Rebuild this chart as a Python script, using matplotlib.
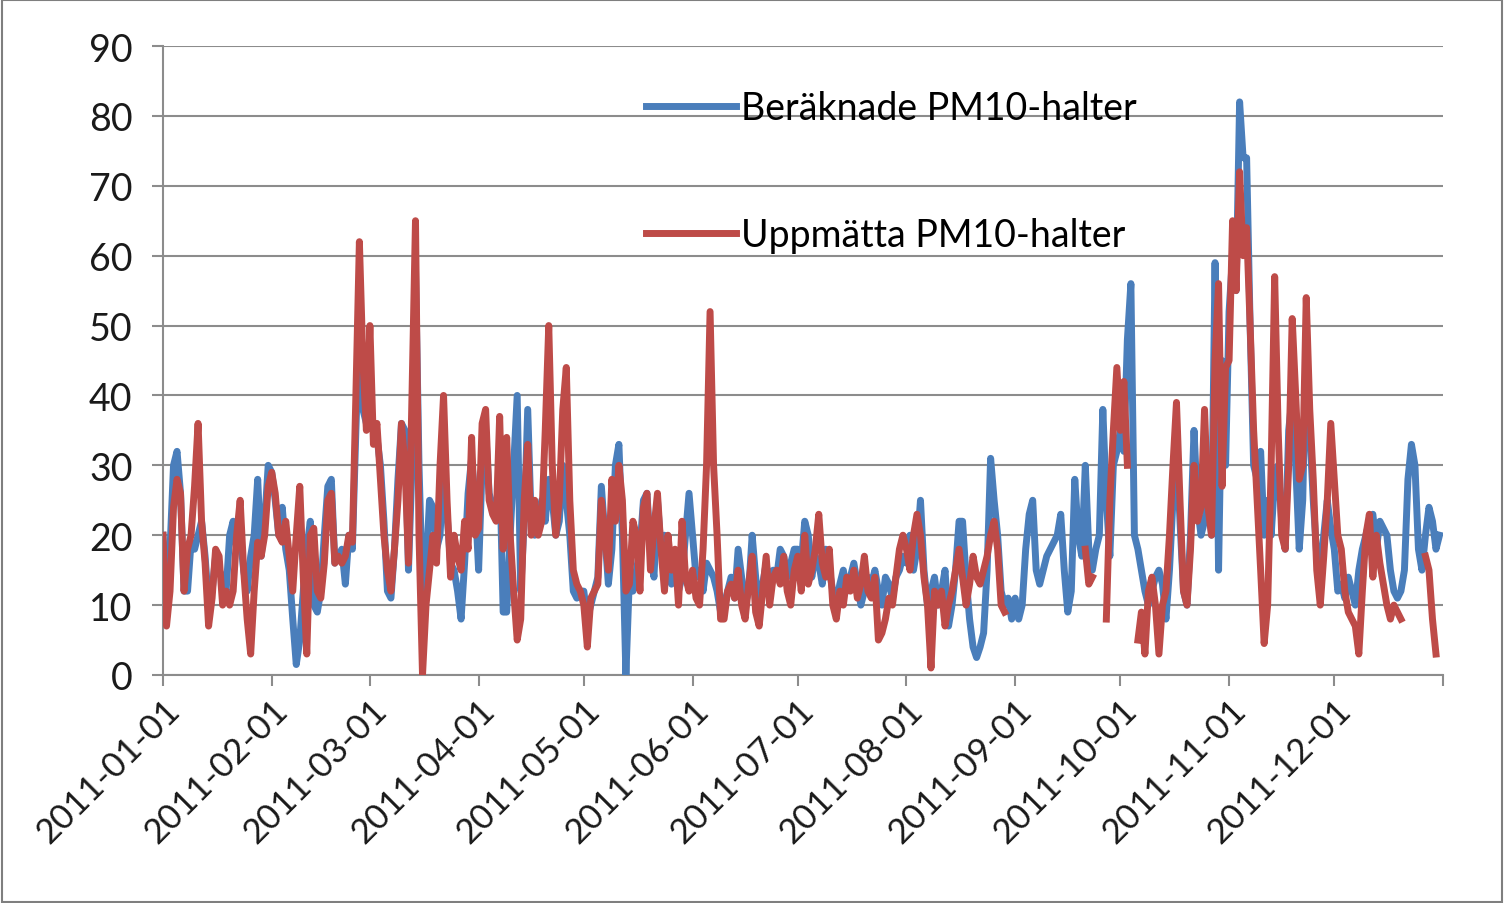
import numpy as np
import pandas as pd
import matplotlib
matplotlib.use("Agg")
import matplotlib.pyplot as plt
from matplotlib.patches import Rectangle

nan = np.nan

# daily PM10 values, 2011, read month by month
ber_jan = [20, 8, 18, 30, 32, 26, 12, 12, 19, 18, 20, 22, 17, 10, 12, 17, 15, 14, 12, 20,
           22, 18, 20, 15, 12, 17, 20, 28, 17, 22, 30]
ber_feb = [29, 25, 20, 24, 18, 15, 8, 1.5, 5, 12, 18, 22, 10, 9, 12, 20, 27, 28, 16, 17,
           18, 13, 20, 18, 35, 50, 38, 36]
ber_mar = [38, 35, 34, 30, 22, 12, 11, 18, 28, 36, 35, 15, 30, 58, 30, 12, 15, 25, 24, 18,
           20, 30, 23, 16, 15, 12, 8, 16, 26, 31, 25]
ber_apr = [15, 30, 35, 26, 24, 23, 30, 9, 9, 20, 30, 40, 12, 22, 38, 22, 20, 22, 25, 22,
           28, 25, 20, 22, 30, 25, 20, 12, 11, 12]
ber_maj = [12, 8, 10, 12, 14, 27, 20, 13, 18, 30, 33, 20, 0, 14, 12, 15, 18, 25, 26, 18,
           14, 25, 18, 20, 15, 13, 16, 12, 14, 20, 26]
ber_jun = [20, 14, 15, 12, 16, 15, 14, 12, 9, 10, 12, 14, 11, 18, 14, 10, 12, 20, 14, 10,
           13, 16, 12, 15, 14, 18, 17, 14, 16, 18]
ber_jul = [18, 16, 22, 20, 14, 17, 16, 13, 18, 15, 12, 10, 13, 15, 12, 14, 16, 13, 10, 12,
           14, 13, 15, 12, 10, 14, 13, 11, 14, 15, 17]
ber_aug = [16, 20, 15, 18, 25, 15, 10, 12, 14, 10, 12, 15, 7, 10, 15, 22, 22, 14, 8, 4,
           2.5, 4, 6, 15, 31, 25, 20, 12, 10, 11, 8]
ber_sep = [11, 8, 10, 18, 23, 25, 15, 13, 15, 17, 18, 19, 20, 23, 15, 9, 12, 28, 20, 17,
           30, 18, 15, 18, 20, 38, 25, 17, 30, 32]
ber_okt = [35, 32, 48, 56, 20, 18, 15, 12, 10, 12, 14, 15, 13, 8, 15, 25, 33, 22, 12, 10,
           20, 35, 24, 20, 22, 25, 20, 59, 15, 45, 30]
ber_nov = [52, 60, 55, 82, 74, 74, 50, 30, 28, 32, 20, 25, 20, 28, 30, 22, 18, 35, 40, 30,
           18, 25, 48, 35, 25, 17, 15, 20, 25, 21]
ber_dec = [18, 12, 13, 11, 14, 12, 10, 15, 18, 20, 22, 23, 18, 22, 21, 20, 15, 12, 11, 12,
           15, 28, 33, 30, 18, 15, 20, 24, 22, 18, 20]

upp_jan = [20, 7, 12, 24, 28, 26, 12, 18, 20, 27, 36, 22, 16, 7, 11, 18, 17, 10, 12, 10,
           12, 20, 25, 15, 8, 3, 12, 19, 17, 20, 27]
upp_feb = [29, 26, 20, 19, 22, 17, 12, 20, 27, 14, 3, 20, 21, 12, 11, 16, 25, 26, 16, 17,
           16, 17, 20, 19, 40, 62, 45, 35]
upp_mar = [50, 33, 36, 28, 20, 15, 12, 18, 25, 36, 30, 16, 40, 65, 20, 0, 10, 15, 20, 16,
           30, 40, 25, 14, 20, 17, 15, 22, 18, 34, 20]
upp_apr = [21, 36, 38, 25, 23, 22, 37, 18, 34, 20, 12, 5, 8, 25, 33, 20, 25, 20, 22, 35,
           50, 30, 20, 25, 38, 44, 25, 15, 13, 12]
upp_maj = [10, 4, 11, 12, 13, 25, 20, 15, 28, 22, 30, 25, 12, 13, 22, 20, 12, 24, 26, 15,
           21, 26, 18, 12, 20, 15, 18, 10, 22, 14, 12]
upp_jun = [15, 11, 10, 18, 30, 52, 30, 20, 8, 8, 12, 13, 11, 15, 10, 8, 13, 17, 9, 7,
           12, 17, 10, 14, 15, 13, 17, 12, 10, 15]
upp_jul = [17, 12, 20, 13, 15, 18, 23, 16, 14, 18, 10, 8, 12, 10, 14, 12, 15, 11, 13, 17,
           12, 11, 14, 5, 6, 8, 11, 10, 14, 18, 20]
upp_aug = [18, 15, 20, 23, 20, 14, 10, 1, 12, 10, 12, 7, 10, 12, 15, 18, 14, 10, 13, 17,
           14, 13, 15, 17, 20, 22, 18, 10, 9, nan, nan]
upp_sep = [nan] * 20 + [18, 13, 14, nan, nan, nan, 8, 25, 35, 44]
upp_okt = [35, 42, 30, nan, nan, 5, 9, 3, 12, 14, 10, 3, 10, 12, 20, 30, 39, 25, 12, 10,
           18, 30, 22, 24, 38, 24, 20, 45, 56, 27, 44]
upp_nov = [45, 65, 55, 72, 60, 64, 50, 35, 25, 15, 4.5, 10, 30, 57, 35, 20, 18, 30, 51, 40,
           28, 30, 54, 38, 28, 15, 10, 17, 25, 36]
upp_dec = [28, 20, 18, 12, 9, 8, 7, 3, 12, 20, 23, 14, 20, 16, 13, 10, 8, 10, 9, 8,
           nan, nan, nan, nan, nan, nan, 17, 15, 8, 3, nan]

ber = np.array(ber_jan + ber_feb + ber_mar + ber_apr + ber_maj + ber_jun
               + ber_jul + ber_aug + ber_sep + ber_okt + ber_nov + ber_dec, dtype=float)
upp = np.array(upp_jan + upp_feb + upp_mar + upp_apr + upp_maj + upp_jun
               + upp_jul + upp_aug + upp_sep + upp_okt + upp_nov + upp_dec, dtype=float)
dates = pd.date_range("2011-01-01", "2011-12-31", freq="D")
month_starts = pd.date_range("2011-01-01", "2012-01-01", freq="MS")

BLUE = "#4a7ebb"
RED = "#be4b48"
GRID = "#8c8c8c"
FS = 27

plt.rcParams["font.family"] = ["Lato", "DejaVu Sans"]

fig = plt.figure(figsize=(15.04, 9.04), dpi=100)
ax = fig.add_axes([163 / 1504, 1 - 676 / 904, 1280 / 1504, 629 / 904])

ax.plot(dates, ber, color=BLUE, lw=5, label="Beräknade PM10-halter", zorder=3)
ax.plot(dates, upp, color=RED, lw=5, label="Uppmätta PM10-halter", zorder=4)

ax.set_xlim(month_starts[0], month_starts[-1])
ax.set_ylim(0, 90)
ax.set_yticks(range(0, 91, 10))
ax.yaxis.grid(True, color=GRID, lw=1.5)
ax.set_axisbelow(True)

ax.set_xticks(month_starts)
ax.set_xticklabels([d.strftime("%Y-%m-%d") for d in month_starts[:-1]] + [""])
plt.setp(ax.get_xticklabels(), rotation=45, ha="right", rotation_mode="anchor")

for side in ("top", "right"):
    ax.spines[side].set_visible(False)
for side in ("left", "bottom"):
    ax.spines[side].set_color(GRID)
    ax.spines[side].set_linewidth(1.5)
ax.tick_params(axis="both", colors=GRID, length=8, width=1.5, labelsize=FS,
               labelcolor="#1a1a1a")
ax.tick_params(axis="y", pad=14)
ax.tick_params(axis="x", pad=5, labelsize=25)

ax.legend(loc="upper left", bbox_to_anchor=(0.377, 0.93), frameon=False,
          fontsize=FS, handlelength=2.4, handletextpad=0.15, labelspacing=2.42,
          borderpad=0, borderaxespad=0)

fig.patches.append(Rectangle((0.001, 0.001), 0.998, 0.998, transform=fig.transFigure,
                             fill=False, edgecolor="#7f7f7f", lw=1.5))

fig.savefig("out.png", dpi=100, facecolor="white")
